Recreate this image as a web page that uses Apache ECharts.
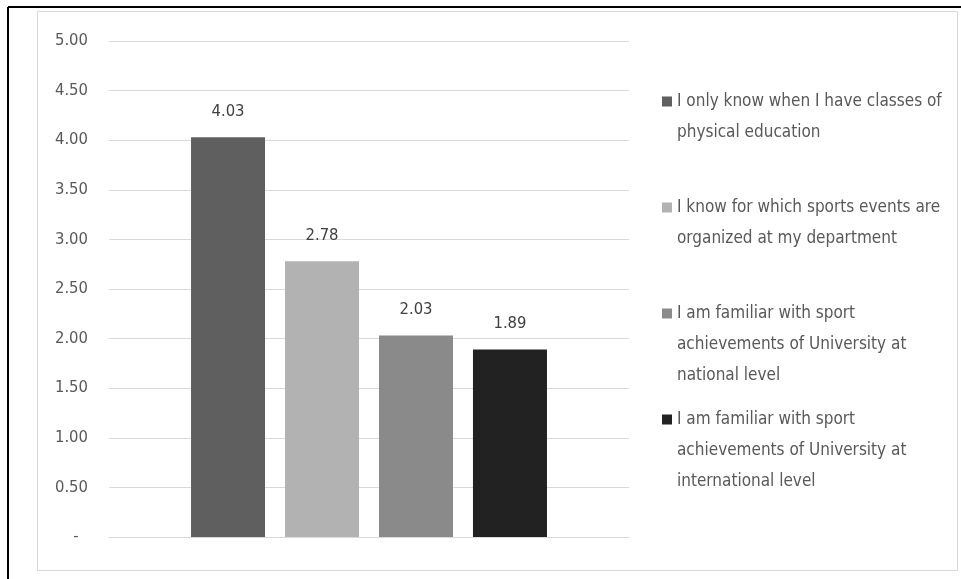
<!DOCTYPE html>
<html>
<head>
<meta charset="utf-8">
<script src="https://cdn.jsdelivr.net/npm/echarts@6/dist/echarts.min.js"></script>
<style>
  html, body { margin: 0; padding: 0; background: #ffffff; }
  #chart { width: 961px; height: 579px; }
</style>
</head>
<body>
<div id="chart"></div>
<script>
// ---- data ----
const seriesNames = [
  'I only know when I have classes of physical education',
  'I know for which sports events are organized at my department',
  'I am familiar with sport achievements of University at national level',
  'I am familiar with sport achievements of University at international level'
];
const legendLines = [
  ['I only know when I have classes of', 'physical education'],
  ['I know for which sports events are', 'organized at my department'],
  ['I am familiar with sport', 'achievements of University at', 'national level'],
  ['I am familiar with sport', 'achievements of University at', 'international level']
];
const values = [4.03, 2.78, 2.03, 1.89];
const category = [''];
const yTicks = { min: 0, max: 5, interval: 0.5 };

// ---- styles ----
const colors = ['#5f5f5f', '#b2b2b2', '#8a8a8a', '#222222'];
const FONT = "'DejaVu Sans Condensed', 'Liberation Sans Narrow', sans-serif";
const LH = 31;

function legendFor(i) {
  const rich = {
    sq: { width: 10, height: 10, backgroundColor: colors[i], lineHeight: LH, verticalAlign: 'middle' },
    g: { width: 5, lineHeight: LH, verticalAlign: 'middle' },
    p: { width: 15, lineHeight: LH, verticalAlign: 'middle' },
    t: { fontSize: 17, lineHeight: LH, color: '#595959', fontFamily: FONT, verticalAlign: 'middle' }
  };
  return {
    orient: 'vertical',
    left: 656,
    top: 86 + i * 106,
    padding: 0,
    icon: 'rect',
    itemWidth: 1,
    itemHeight: 1,
    itemStyle: { opacity: 0 },
    selectedMode: false,
    data: [seriesNames[i]],
    formatter: function () {
      const lines = legendLines[i];
      let s = '{sq|}{g|}{t|' + lines[0] + '}';
      for (let k = 1; k < lines.length; k++) s += '\n{p|}{t|' + lines[k] + '}';
      return s;
    },
    textStyle: { rich: rich, fontFamily: FONT, fontSize: 17, lineHeight: LH, color: '#595959' }
  };
}

const series = seriesNames.map((name, i) => ({
  name: name,
  type: 'bar',
  data: [values[i]],
  barWidth: 74,
  barGap: '27%',
  itemStyle: { color: colors[i] },
  label: {
    show: true,
    position: 'top',
    distance: 17,
    fontSize: 16.5,
    fontFamily: FONT,
    color: '#404040',
    formatter: p => p.value.toFixed(2)
  },
  emphasis: { disabled: true }
}));

const chart = echarts.init(document.getElementById('chart'));
chart.setOption({
  backgroundColor: '#ffffff',
  animation: false,
  graphic: [
    { type: 'rect', shape: { x: 37.5, y: 11.5, width: 920, height: 559 },
      style: { fill: 'none', stroke: '#d9d9d9', lineWidth: 1 }, silent: true },
    { type: 'line', shape: { x1: 8, y1: 7, x2: 961, y2: 7 },
      style: { stroke: '#000000', lineWidth: 2 }, silent: true },
    { type: 'line', shape: { x1: 8, y1: 7, x2: 8, y2: 579 },
      style: { stroke: '#000000', lineWidth: 2 }, silent: true }
  ],
  grid: { left: 109, right: 332, top: 41, bottom: 42, containLabel: false },
  legend: seriesNames.map((n, i) => legendFor(i)),
  xAxis: {
    type: 'category',
    data: category,
    axisLine: { show: true, lineStyle: { color: '#d9d9d9', width: 1 } },
    axisTick: { show: false },
    axisLabel: { show: false }
  },
  yAxis: {
    type: 'value',
    min: yTicks.min,
    max: yTicks.max,
    interval: yTicks.interval,
    axisLine: { show: false },
    axisTick: { show: false },
    splitLine: { lineStyle: { color: '#d9d9d9', width: 1 } },
    axisLabel: {
      margin: 21,
      fontSize: 16.5,
      fontFamily: FONT,
      color: '#595959',
      formatter: v => (v === 0 ? '-  ' : v.toFixed(2))
    }
  },
  series: series
});
</script>
</body>
</html>
